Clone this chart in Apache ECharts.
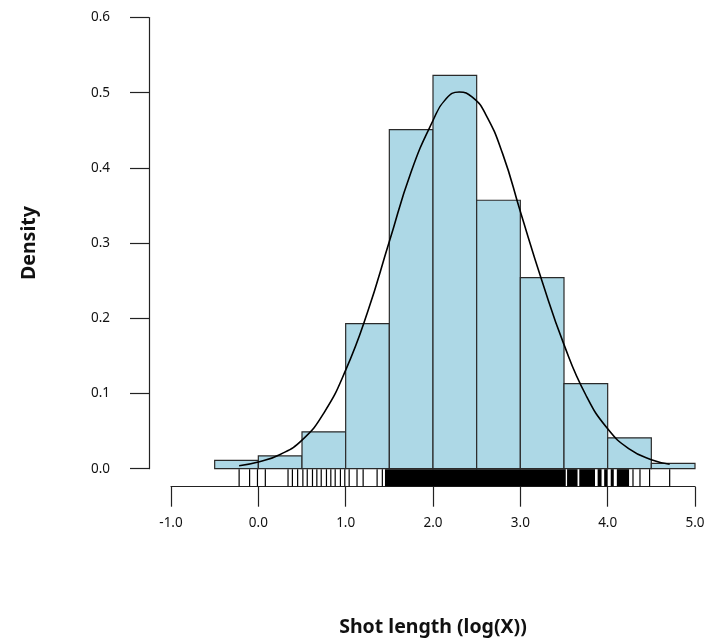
<!DOCTYPE html>
<html><head><meta charset="utf-8">
<script src="https://cdn.jsdelivr.net/npm/echarts/dist/echarts.min.js"></script>
<style>html,body{margin:0;padding:0;background:#fff}#c{width:711px;height:643px}</style>
</head><body><div id="c"></div>
<script>
// Histogram bins (log shot length) and densities
const binStart = [-0.5, 0.0, 0.5, 1.0, 1.5, 2.0, 2.5, 3.0, 3.5, 4.0, 4.5];
const binEnd   = [ 0.0, 0.5, 1.0, 1.5, 2.0, 2.5, 3.0, 3.5, 4.0, 4.5, 5.0];
const density  = [0.011, 0.017, 0.049, 0.193, 0.451, 0.523, 0.357, 0.254, 0.113, 0.041, 0.007];

// Fitted density curve
const curveX = [-0.22, 0.0, 0.25, 0.5, 0.75, 1.0, 1.25, 1.5, 1.75, 2.0, 2.15, 2.3, 2.45, 2.6, 2.8, 3.0, 3.25, 3.5, 3.75, 4.0, 4.25, 4.5, 4.71];
const curveY = [0.004, 0.009, 0.019, 0.038, 0.074, 0.131, 0.208, 0.302, 0.395, 0.463, 0.492, 0.501, 0.494, 0.472, 0.418, 0.342, 0.249, 0.165, 0.098, 0.053, 0.026, 0.012, 0.006];

// Rug: isolated observations and solid (dense) stretches
const rugLines = [-0.22, -0.10, -0.01, 0.08, 0.34, 0.39, 0.45, 0.51, 0.56, 0.62, 0.67, 0.72, 0.78, 0.83, 0.88, 0.94, 0.99, 1.04, 1.13, 1.20, 1.36, 1.42, 4.29, 4.37, 4.48, 4.71];
const rugBandStart = [1.45, 3.535, 3.675, 3.885, 3.96, 4.035, 4.105];
const rugBandEnd   = [3.52, 3.655, 3.855, 3.93, 4.00, 4.07, 4.245];

// Axis ticks
const xTicks = [-1, 0, 1, 2, 3, 4, 5];
const yTicks = [0, 0.1, 0.2, 0.3, 0.4, 0.5, 0.6];

const RUG_LEN = 17;
const FONT = '"Noto Sans", "Open Sans", sans-serif';

const chart = echarts.init(document.getElementById('c'), null, {renderer: 'canvas'});
const option = {
  animation: false,
  backgroundColor: '#fff',
  grid: {left: 171, right: 16, top: 17.5, bottom: 174.3},
  xAxis: {
    type: 'value', min: xTicks[0], max: xTicks[xTicks.length - 1], interval: 1,
    offset: 18,
    axisLine: {show: true, onZero: false, lineStyle: {color: '#222', width: 1.2}},
    axisTick: {show: true, length: 20, lineStyle: {color: '#222', width: 1.2}},
    axisLabel: {formatter: v => v.toFixed(1), margin: 29, fontSize: 13.5, color: '#111', fontFamily: FONT},
    splitLine: {show: false},
    name: 'Shot length (log(X))', nameLocation: 'middle', nameGap: 131,
    nameTextStyle: {fontWeight: 'bold', fontSize: 19.5, color: '#111', fontFamily: FONT}
  },
  yAxis: {
    type: 'value', min: yTicks[0], max: yTicks[yTicks.length - 1], interval: 0.1,
    offset: 22,
    axisLine: {show: true, onZero: false, lineStyle: {color: '#222', width: 1.2}},
    axisTick: {show: true, length: 19, lineStyle: {color: '#222', width: 1.2}},
    axisLabel: {formatter: v => v.toFixed(1), margin: 39, fontSize: 13.5, color: '#111', fontFamily: FONT},
    splitLine: {show: false},
    name: 'Density', nameLocation: 'middle', nameGap: 110, nameRotate: 90,
    nameTextStyle: {fontWeight: 'bold', fontSize: 19.5, color: '#111', fontFamily: FONT}
  },
  series: [
    {
      type: 'custom', name: 'hist', z: 2,
      data: binStart.map((s, i) => [s, binEnd[i], density[i]]),
      encode: {x: [0, 1], y: 2},
      renderItem: (params, api) => {
        const p0 = api.coord([api.value(0), api.value(2)]);
        const p1 = api.coord([api.value(1), 0]);
        return {type: 'rect', shape: {x: p0[0], y: p0[1], width: p1[0] - p0[0], height: p1[1] - p0[1]},
          style: {fill: '#ADD8E6', stroke: '#2a2a2a', lineWidth: 1.2}};
      }
    },
    {
      type: 'line', name: 'curve', z: 5, smooth: true, showSymbol: false, symbol: 'none',
      data: curveX.map((x, i) => [x, curveY[i]]),
      lineStyle: {color: '#000', width: 1.6}
    },
    {
      type: 'custom', name: 'rug', z: 3, clip: false,
      data: rugLines.map(v => [v, 0]),
      encode: {x: 0, y: 1},
      renderItem: (params, api) => {
        const p = api.coord([api.value(0), 0]);
        return {type: 'line', shape: {x1: p[0], y1: p[1] + 0.5, x2: p[0], y2: p[1] + 0.5 + RUG_LEN},
          style: {stroke: '#000', lineWidth: 1.2}};
      }
    },
    {
      type: 'custom', name: 'rugBands', z: 3, clip: false,
      data: rugBandStart.map((s, i) => [s, rugBandEnd[i], 0]),
      encode: {x: [0, 1], y: 2},
      renderItem: (params, api) => {
        const p0 = api.coord([api.value(0), 0]);
        const p1 = api.coord([api.value(1), 0]);
        return {type: 'rect', shape: {x: p0[0], y: p0[1] + 0.5, width: p1[0] - p0[0], height: RUG_LEN},
          style: {fill: '#000'}};
      }
    }
  ]
};
chart.setOption(option);
</script>
</body></html>
